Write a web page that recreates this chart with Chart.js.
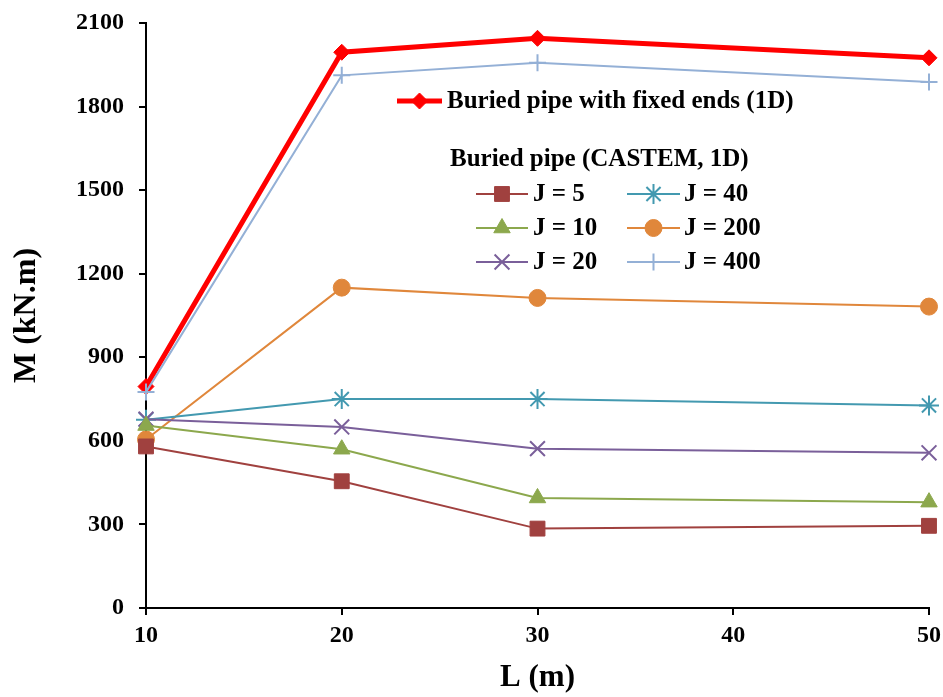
<!DOCTYPE html>
<html>
<head>
<meta charset="utf-8">
<script src="https://cdn.jsdelivr.net/npm/chart.js@4.4.1/dist/chart.umd.min.js"></script>
<style>
    html, body { margin: 0; padding: 0; background: #fff; }
    #wrap { width: 943px; height: 697px; }
</style>
</head>
<body>
<div id="wrap"><canvas id="momentChart" width="943" height="697"></canvas></div>
<script>
const FONT = "'Liberation Serif', 'Times New Roman', serif";

// pipe length L (m)
const lengths = [10, 20, 30, 50];

// M (kN.m)
const fixedEnds = [795, 1995, 2045, 1975];
const j5 = [580, 455, 285, 295];
const j10 = [655, 570, 395, 380];
const j20 = [678, 650, 572, 557];
const j40 = [676, 750, 750, 727];
const j200 = [605, 1150, 1113, 1082];
const j400 = [775, 1912, 1957, 1888];

const yTicks = [0, 300, 600, 900, 1200, 1500, 1800, 2100];
const xTicks = [10, 20, 30, 40, 50];

function toPoints(values) {
    return lengths.map((x, i) => ({x: x, y: values[i]}));
}

function series(label, values, color, pointStyle, radius, width) {
    const lined = pointStyle === "cross" || pointStyle === "crossRot" || pointStyle === "star";
    return {
        label: label,
        data: toPoints(values),
        borderColor: color,
        backgroundColor: color,
        borderWidth: width,
        pointStyle: pointStyle,
        pointRadius: radius,
        pointBorderWidth: lined ? 2 : 1,
        pointBorderColor: color,
        pointBackgroundColor: color,
        pointHoverRadius: radius,
        tension: 0,
        clip: false
    };
}

const datasets = [
    series("J = 5", j5, "#A0413F", "rect", 10.5, 2),
    series("J = 10", j10, "#8CA84D", "triangle", 9.5, 2),
    series("J = 20", j20, "#7A5F9A", "crossRot", 10.5, 2),
    series("J = 40", j40, "#4399B0", "star", 10, 2),
    series("J = 200", j200, "#E0873B", "circle", 8.5, 2),
    series("J = 400", j400, "#94B0D6", "cross", 8.5, 2),
    series("Buried pipe with fixed ends (1D)", fixedEnds, "#FF0000", "rectRot", 8, 5)
];

// hand drawn legend, laid out like the original figure
const legendPlugin = {
    id: "pipeLegend",
    afterDraw(chart) {
        const ctx = chart.ctx;
        const sets = chart.data.datasets;

        function entry(ds, x1, x2, y, textX) {
            ctx.save();
            ctx.strokeStyle = ds.borderColor;
            ctx.fillStyle = ds.backgroundColor;
            ctx.lineWidth = ds.borderWidth;
            ctx.beginPath();
            ctx.moveTo(x1, y);
            ctx.lineTo(x2, y);
            ctx.stroke();
            ctx.lineWidth = ds.pointBorderWidth;
            Chart.helpers.drawPoint(ctx, {
                pointStyle: ds.pointStyle,
                radius: ds.pointRadius,
                rotation: 0,
                borderWidth: ds.pointBorderWidth
            }, (x1 + x2) / 2, y);
            ctx.fillStyle = "#000";
            ctx.font = "bold 25px " + FONT;
            ctx.textBaseline = "middle";
            ctx.textAlign = "left";
            ctx.fillText(ds.label, textX, y + 1);
            ctx.restore();
        }

        entry(sets[6], 397, 442, 101, 447);

        ctx.save();
        ctx.fillStyle = "#000";
        ctx.font = "bold 25px " + FONT;
        ctx.textBaseline = "middle";
        ctx.fillText("Buried pipe (CASTEM, 1D)", 450, 160);
        ctx.restore();

        const rows = [194, 228, 262];
        for (let i = 0; i < 3; i++) {
            entry(sets[i], 476, 528, rows[i], 533);
            entry(sets[i + 3], 627, 680, rows[i], 684);
        }
    }
};

new Chart("momentChart", {
    type: "line",
    data: {datasets: datasets},
    options: {
        responsive: false,
        animation: false,
        events: [],
        layout: {padding: {top: 23, right: 14, left: 0, bottom: 0}},
        plugins: {
            legend: {display: false},
            tooltip: {enabled: false}
        },
        scales: {
            x: {
                type: "linear",
                min: 10,
                max: 50,
                afterBuildTicks: scale => { scale.ticks = xTicks.map(v => ({value: v})); },
                afterFit: scale => {
                    scale.height = 89;
                    scale.paddingLeft = 0;
                    scale.paddingRight = 0;
                },
                grid: {
                    display: true,
                    drawOnChartArea: false,
                    drawTicks: true,
                    tickLength: 7,
                    color: "#000",
                    lineWidth: 2
                },
                border: {display: true, color: "#000", width: 2},
                ticks: {
                    color: "#000",
                    padding: 6,
                    font: {family: FONT, size: 24, weight: "bold"},
                    callback: v => String(v)
                },
                title: {
                    display: true,
                    text: "L (m)",
                    color: "#000",
                    padding: {top: 0, bottom: 0},
                    font: {family: FONT, size: 31, weight: "bold"}
                }
            },
            y: {
                type: "linear",
                min: 0,
                max: 2100,
                afterBuildTicks: scale => { scale.ticks = yTicks.map(v => ({value: v})); },
                afterFit: scale => {
                    scale.width = 146;
                    scale.paddingTop = 0;
                    scale.paddingBottom = 0;
                },
                grid: {
                    display: true,
                    drawOnChartArea: false,
                    drawTicks: true,
                    tickLength: 7,
                    color: "#000",
                    lineWidth: 2
                },
                border: {display: true, color: "#000", width: 2},
                ticks: {
                    color: "#000",
                    padding: 15,
                    font: {family: FONT, size: 24, weight: "bold"},
                    callback: v => String(v)
                },
                title: {
                    display: true,
                    text: "M (kN.m)",
                    color: "#000",
                    padding: {top: 8, bottom: 0},
                    font: {family: FONT, size: 32, weight: "bold"}
                }
            }
        }
    },
    plugins: [legendPlugin]
});
</script>
</body>
</html>
